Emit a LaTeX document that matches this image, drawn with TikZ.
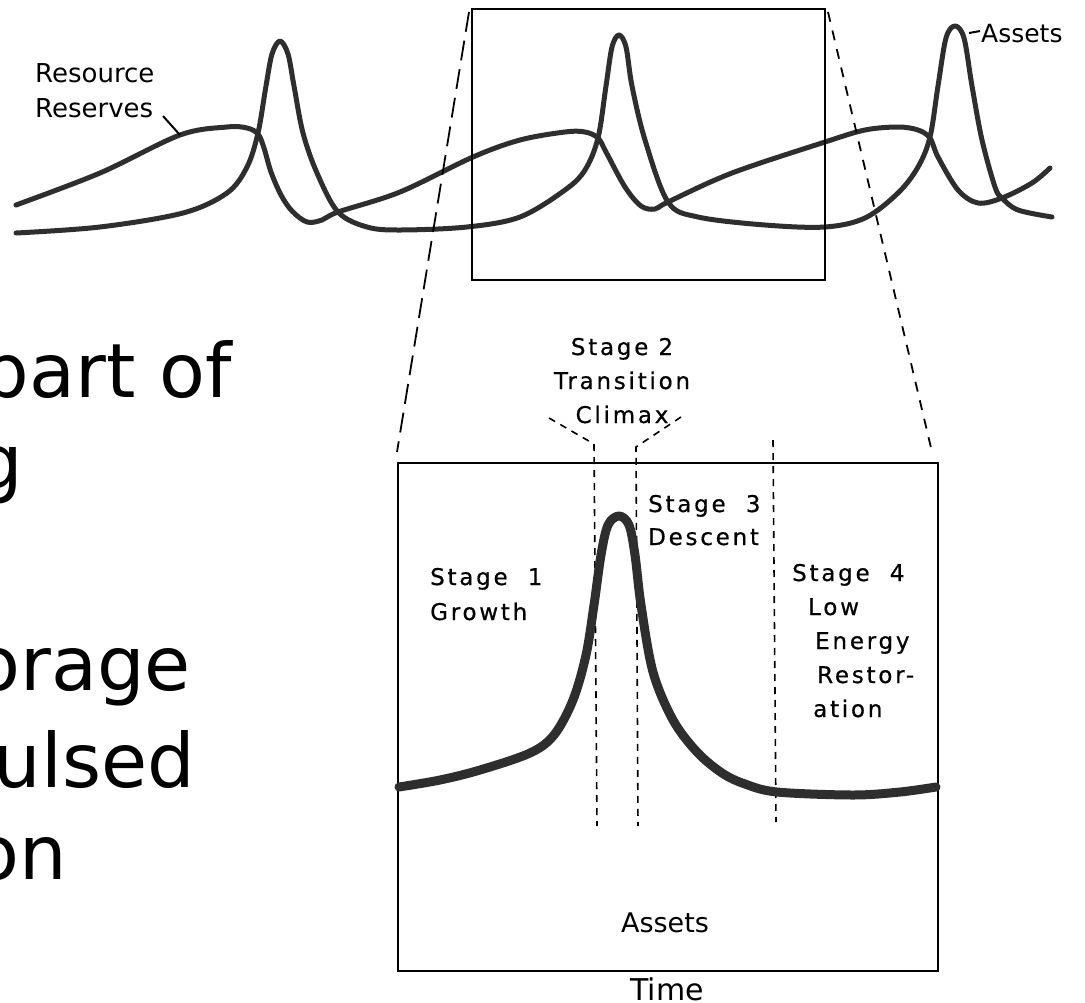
\documentclass[tikz,border=0pt]{standalone}
\usepackage{fontspec}
\setmainfont{DejaVu Sans}
\newfontfamily\stagefont[LetterSpace=12,FakeBold=0.6]{DejaVu Sans}
\begin{document}
\begin{tikzpicture}[x=1pt,y=-1pt,
  curve/.style={line width=5pt,draw=black!82,line cap=round,line join=round},
  pulse/.style={line width=9pt,draw=black!82,line cap=round,line join=round},
  frame/.style={draw=black,line width=2pt},
  longdash/.style={draw=black,line width=1.8pt,dash pattern=on 20pt off 9pt},
  shortdash/.style={draw=black,line width=1.8pt,dash pattern=on 10pt off 9pt},
  stagedash/.style={draw=black,line width=1.6pt,dash pattern=on 7pt off 6pt},
  slide/.style={inner sep=0pt,anchor=base east,font=\fontsize{75}{90}\selectfont},
  label/.style={inner sep=0pt,font=\fontsize{26}{35}\selectfont},
  stagetext/.style={inner sep=0pt,anchor=base west,align=left,
    font=\stagefont\fontsize{23}{34}\selectfont},
  leader/.style={draw=black,line width=2pt}]
\useasboundingbox (0,0) rectangle (1085,1002);

% lines of the slide text, cut at the left edge
\begin{scope}
  \clip (0,0) rectangle (1085,1002);
  \node[slide] (t1) at (232,397) {part of};
  \node[slide] (t2) at (23,488) {g};
  \node[slide] (t3) at (191,690) {orage};
  \node[slide] (t4) at (195,787) {ulsed};
  \node[slide] (t5) at (67,879) {on};
\end{scope}

% ---------- upper plot: reserves and pulsing assets ----------
\draw[curve] plot[smooth,tension=0.55] coordinates {
  (16,205) (100,173) (180,135) (227,127) (247,128) (258,134) (264,148)
  (271,172) (281,195) (292,211) (307,222) (322,220) (338,212) (400,192)
  (473,157) (520,140) (565,132) (585,132) (598,138) (606,152) (625,187)
  (641,206) (655,209) (668,202) (732,173) (825,142) (865,130) (898,127)
  (918,130) (930,138) (938,157) (958,190) (978,203) (1002,198) (1032,183)
  (1050,168)};

\draw[curve] plot[smooth,tension=0.55] coordinates {
  (16,233) (100,227) (183,213) (227,193) (247,167) (258,133) (266,86)
  (272,54) (280,41) (288,54) (294,86) (303,133) (317,173) (338,212)
  (367,227) (400,230) (467,227) (520,217) (565,190) (585,170) (598,138)
  (606,86) (612,47) (619,35) (626,47) (632,86) (645,140) (668,202)
  (698,217) (765,225) (825,227) (865,218) (898,193) (918,167) (930,137)
  (938,86) (946,38) (955,26) (964,38) (972,86) (982,140) (995,187)
  (1002,198) (1018,210) (1052,217)};

% curve labels
\node[label,anchor=base west,align=left] (res) at (35,117) {Resource\\Reserves};
\coordinate (resend) at (180,135);
\draw[leader] (163,116) -- (resend);
\node[label,anchor=base west,font=\fontsize{25}{30}\selectfont] (ast) at (981,42) {Assets};
\coordinate (astend) at (969,33);
\draw[leader] (ast.west) ++(-1,-2) -- (astend);

% ---------- window and its enlargement ----------
\coordinate (wTL) at (472,9);
\coordinate (wBR) at (825,280);
\draw[frame] (wTL) rectangle (wBR);

\coordinate (bTL) at (398,463);
\coordinate (bBR) at (938,971);
\draw[frame] (bTL) rectangle (bBR);

\draw[longdash] (469,12) -- (397,452);
\draw[shortdash] (828,12) -- (932,452);

% stage boundaries
\draw[stagedash] (549,418) -- (594,444) -- (597,826);
\draw[stagedash] (681,417) -- (636,447) -- (638,826);
\draw[stagedash] (773,440) -- (776,822);

% the single pulse of assets
\draw[pulse] plot[smooth,tension=0.55] coordinates {
  (399,787) (440,780) (480,770) (530,753) (554,735) (573,700) (586,655)
  (594,605) (601,555) (608,525) (619,516) (629,525) (635,555) (641,605)
  (653,672) (673,720) (697,752) (722,773) (745,784) (777,792) (853,795)
  (900,792) (936,787)};

% stage names (anchored at the baseline of their last line)
\node[stagetext,align=center,anchor=base] (s2) at (622,423) {Stage 2\\Transition\\Climax};
\node[stagetext,font=\stagefont\fontsize{23}{35}\selectfont] (s1) at (430,620) {Stage\ \ 1\\Growth};
\node[stagetext,font=\stagefont\fontsize{23}{33}\selectfont] (s3) at (648,545) {Stage\ \ 3\\Descent};
\node[stagetext] (s4) at (792,717) {Stage\ \ 4\\\hspace*{16pt}Low\\\hspace*{23pt}Energy\\\hspace*{25pt}Restor-\\\hspace*{21pt}ation};

% axis captions
\node[inner sep=0pt,anchor=base,font=\fontsize{27}{30}\selectfont] (assets) at (665,932) {Assets};
\node[inner sep=0pt,anchor=base,font=\fontsize{30}{32}\selectfont] (time) at (667,1000) {Time};
\end{tikzpicture}
\end{document}
